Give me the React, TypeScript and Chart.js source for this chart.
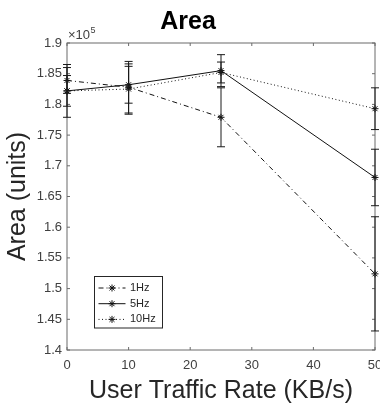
import React, { useEffect, useRef } from 'react';
import { Chart, registerables } from 'chart.js';

Chart.register(...registerables);

// ---- data (Area in units, error = half-length of error bar) ----
const rates = [0, 10, 25, 50];
const seriesLabels = ['1Hz', '5Hz', '10Hz'];
const area1Hz = [183900, 182800, 177900, 152400];
const err1Hz = [2100, 4200, 4800, 9300];
const area5Hz = [182200, 183200, 185500, 168100];
const err5Hz = [4300, 3000, 2600, 4600];
const area10Hz = [182200, 182500, 185200, 179300];
const err10Hz = [2500, 4100, 1700, 3400];
const yMin = 140000;
const yMax = 190000;
const yStep = 5000;
const xMin = 0;
const xMax = 50;
const xStep = 10;
const yExponent = 5;

const FONT = '"Liberation Sans", Arial, Helvetica, sans-serif';
const AXIS = '#6b6b6b';
const TICK = '#404040';
const LABEL = '#262626';
const LINE = '#111111';

function drawStar(ctx: CanvasRenderingContext2D, x: number, y: number, r: number) {
  ctx.beginPath();
  for (let k = 0; k < 4; k++) {
    const a = (k * Math.PI) / 4;
    ctx.moveTo(x - r * Math.cos(a), y - r * Math.sin(a));
    ctx.lineTo(x + r * Math.cos(a), y + r * Math.sin(a));
  }
  ctx.stroke();
}

const framePlugin = {
  id: 'frame',
  beforeDatasetsDraw(chart: any) {
    const { ctx, chartArea, scales } = chart;
    const { left, right, top, bottom } = chartArea;
    ctx.save();
    ctx.strokeStyle = AXIS;
    ctx.lineWidth = 1;
    ctx.strokeRect(left, top, right - left, bottom - top);
    const tl = 3;
    ctx.beginPath();
    scales.x.ticks.forEach((t: any) => {
      const px = scales.x.getPixelForValue(t.value);
      ctx.moveTo(px, bottom);
      ctx.lineTo(px, bottom - tl);
      ctx.moveTo(px, top);
      ctx.lineTo(px, top + tl);
    });
    scales.y.ticks.forEach((t: any) => {
      const py = scales.y.getPixelForValue(t.value);
      ctx.moveTo(left, py);
      ctx.lineTo(left + tl, py);
      ctx.moveTo(right, py);
      ctx.lineTo(right - tl, py);
    });
    ctx.stroke();
    ctx.restore();
  },
  afterDatasetsDraw(chart: any) {
    const { ctx, scales } = chart;
    ctx.save();
    ctx.strokeStyle = '#1a1a1a';
    ctx.lineWidth = 1;
    ctx.setLineDash([]);
    chart.data.datasets.forEach((ds: any) => {
      ds.data.forEach((p: any, i: number) => {
        const e = ds.errors[i];
        const px = scales.x.getPixelForValue(p.x);
        const y1 = scales.y.getPixelForValue(p.y + e);
        const y2 = scales.y.getPixelForValue(p.y - e);
        ctx.beginPath();
        ctx.moveTo(px, y1);
        ctx.lineTo(px, y2);
        ctx.moveTo(px - 4, y1);
        ctx.lineTo(px + 4, y1);
        ctx.moveTo(px - 4, y2);
        ctx.lineTo(px + 4, y2);
        ctx.stroke();
      });
    });
    ctx.restore();
  },
  afterDraw(chart: any) {
    const { ctx, chartArea } = chart;
    ctx.save();
    // exponent label
    ctx.fillStyle = TICK;
    ctx.textBaseline = 'alphabetic';
    ctx.textAlign = 'left';
    ctx.font = `13px ${FONT}`;
    const base = '\u00d710';
    ctx.fillText(base, chartArea.left + 1, chartArea.top - 4);
    const w = ctx.measureText(base).width;
    ctx.font = `9px ${FONT}`;
    ctx.fillText(String(yExponent), chartArea.left + 1 + w + 0.5, chartArea.top - 10);

    // legend
    const lx = chartArea.left + 27.5;
    const ly = chartArea.bottom - 73.5;
    const lw = 68;
    const lh = 51.5;
    ctx.fillStyle = '#ffffff';
    ctx.fillRect(lx, ly, lw, lh);
    ctx.strokeStyle = LABEL;
    ctx.lineWidth = 1;
    ctx.strokeRect(lx, ly, lw, lh);
    ctx.font = `11px ${FONT}`;
    ctx.textBaseline = 'middle';
    chart.data.datasets.forEach((ds: any, i: number) => {
      const yy = ly + 11.5 + i * 15.7;
      ctx.strokeStyle = LINE;
      ctx.lineWidth = 1;
      ctx.setLineDash(ds.borderDash || []);
      ctx.beginPath();
      ctx.moveTo(lx + 4, yy);
      ctx.lineTo(lx + 31, yy);
      ctx.stroke();
      ctx.setLineDash([]);
      drawStar(ctx, lx + 17.5, yy, 3.5);
      ctx.fillStyle = LABEL;
      ctx.fillText(ds.label, lx + 35.5, yy);
    });
    ctx.restore();
  },
};

export default function App() {
  const ref = useRef<HTMLCanvasElement | null>(null);

  useEffect(() => {
    if (!ref.current) return;
    const mk = (label: string, vals: number[], errs: number[], dash: number[]) => ({
      label,
      data: rates.map((r, i) => ({ x: r, y: vals[i] })),
      errors: errs,
      borderColor: LINE,
      backgroundColor: LINE,
      borderWidth: 1,
      borderDash: dash,
      pointStyle: 'star',
      pointRadius: 3.5,
      pointBorderWidth: 1,
      pointBorderColor: LINE,
      pointBackgroundColor: LINE,
      fill: false,
      tension: 0,
      clip: false,
    });
    const chart = new Chart(ref.current, {
      type: 'line',
      data: {
        datasets: [
          mk(seriesLabels[0], area1Hz, err1Hz, [5, 3, 1, 3]),
          mk(seriesLabels[1], area5Hz, err5Hz, []),
          mk(seriesLabels[2], area10Hz, err10Hz, [1, 2.5]),
        ] as any,
      },
      options: {
        responsive: false,
        animation: false,
        devicePixelRatio: 1,
        layout: { padding: { left: 0, right: 4, top: 0, bottom: 0 } },
        plugins: {
          legend: { display: false },
          tooltip: { enabled: false },
          title: {
            display: true,
            text: 'Area',
            color: '#000000',
            font: { family: FONT, size: 25, weight: 'bold', lineHeight: 1.2 },
            padding: { top: 7.5, bottom: 5.5 },
          },
        },
        scales: {
          x: {
            type: 'linear',
            min: xMin,
            max: xMax,
            ticks: {
              stepSize: xStep,
              color: TICK,
              font: { family: FONT, size: 13 },
              padding: 8,
              maxRotation: 0,
            },
            grid: { display: false, drawTicks: false },
            border: { display: false },
            title: {
              display: true,
              text: 'User Traffic Rate (KB/s)',
              color: LABEL,
              font: { family: FONT, size: 25, lineHeight: 1 },
              padding: { top: 0, bottom: 0.5 },
            },
            afterFit(s: any) {
              s.height = 54;
              s.paddingLeft = 0;
              s.paddingRight = 0;
            },
          },
          y: {
            type: 'linear',
            min: yMin,
            max: yMax,
            ticks: {
              stepSize: yStep,
              color: TICK,
              font: { family: FONT, size: 13 },
              padding: 5,
              callback: (v: any) => String(Number((Number(v) / Math.pow(10, yExponent)).toFixed(2))),
            },
            grid: { display: false, drawTicks: false },
            border: { display: false },
            title: {
              display: true,
              text: 'Area (units)',
              color: LABEL,
              font: { family: FONT, size: 25, lineHeight: 1.2 },
              padding: { top: 3.5, bottom: 0 },
            },
            afterFit(s: any) {
              s.width = 67;
            },
          },
        },
      } as any,
      plugins: [framePlugin],
    });
    return () => chart.destroy();
  }, []);

  return (
    <div style={{ position: 'absolute', left: 0, top: 0, width: 380, height: 404, background: '#fff' }}>
      <canvas ref={ref} width={380} height={404} />
    </div>
  );
}
